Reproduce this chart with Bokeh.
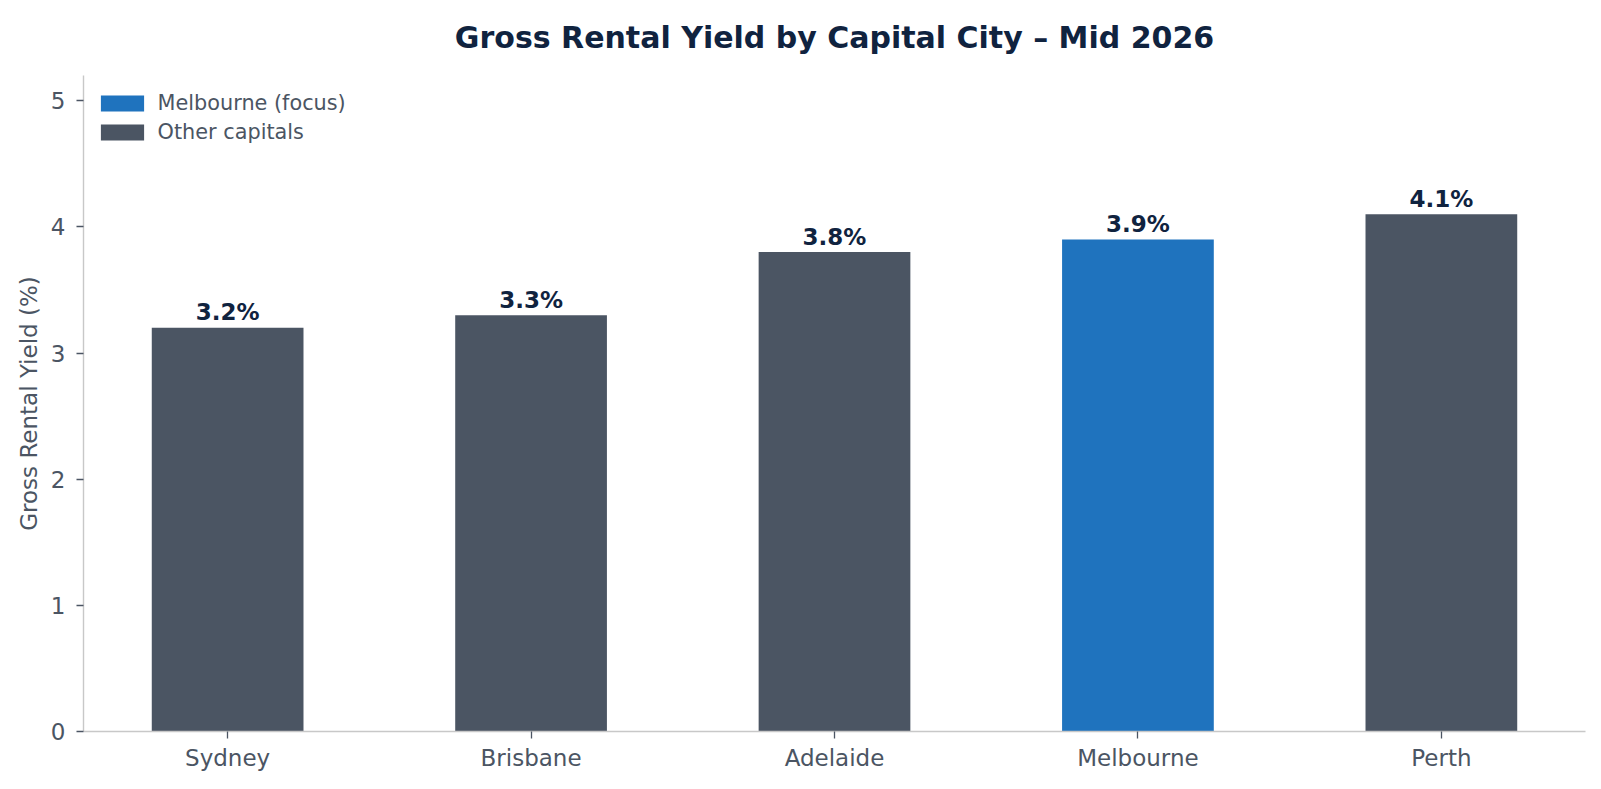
from bokeh.plotting import figure
from bokeh.models import ColumnDataSource, FactorRange, Range1d, Legend, LegendItem, FixedTicker
from bokeh.core.properties import value
from bokeh.embed import file_html
from bokeh.resources import INLINE

# ---- data ----
title_text = "Gross Rental Yield by Capital City \u2013 Mid 2026"
cities = ["Sydney", "Brisbane", "Adelaide", "Melbourne", "Perth"]
yields = [3.2, 3.3, 3.8, 3.9, 4.1]
focus_city = "Melbourne"
legend_labels = ["Melbourne (focus)", "Other capitals"]
y_ticks = [0, 1, 2, 3, 4, 5]

# ---- styles ----
FOCUS = "#1f73be"
OTHER = "#4b5563"
NAVY = "#10233f"
TEXT = "#4b5563"
SPINE = "#c8c8c8"
FONT = "DejaVu Sans"

W, H = 1601, 789
ML, MR, MT, MB = 83, 16, 75, 58

colors = [FOCUS if c == focus_city else OTHER for c in cities]
labels = [f"{v:.1f}%" for v in yields]
src = ColumnDataSource(dict(city=cities, y=yields, color=colors, label=labels))

p = figure(
    x_range=FactorRange(factors=cities, range_padding=-0.01, range_padding_units="percent"),
    y_range=Range1d(0, 5.2),
    width=W, height=H,
    output_backend="svg", toolbar_location=None,
    min_border_left=ML, min_border_right=MR, min_border_top=MT, min_border_bottom=MB,
)
p.outline_line_color = None
p.background_fill_color = "white"
p.border_fill_color = "white"
p.xgrid.visible = False
p.ygrid.visible = False

xax = p.below[0]
yax = p.left[0]

p.title.text = title_text
p.title.align = "center"
p.title.vertical_align = "top"
p.title.text_font = FONT
p.title.text_font_size = "30px"
p.title.text_font_style = "bold"
p.title.text_color = NAVY
p.title.standoff = 38

r = p.vbar(x="city", top="y", width=0.5, source=src, fill_color="color", line_color=None)

p.text(x="city", y="y", text="label", source=src, text_align="center",
       text_baseline="alphabetic", y_offset=-15.5, text_font=value(FONT),
       text_font_size="23px", text_font_style="bold", text_color=NAVY)

for ax in (xax, yax):
    ax.axis_line_color = SPINE
    ax.axis_line_width = 1.4
    ax.major_tick_line_color = TEXT
    ax.major_tick_line_width = 1.3
    ax.major_tick_out = 7
    ax.major_tick_in = 0
    ax.minor_tick_line_color = None
    ax.major_label_text_font = FONT
    ax.major_label_text_font_size = "23px"
    ax.major_label_text_color = TEXT

xax.major_label_standoff = 6
yax.major_label_standoff = 11
yax.ticker = FixedTicker(ticks=y_ticks)
yax.axis_label = "Gross Rental Yield (%)"
yax.axis_label_text_font = FONT
yax.axis_label_text_font_size = "23px"
yax.axis_label_text_font_style = "normal"
yax.axis_label_text_color = TEXT
yax.axis_label_standoff = 6

frame_h = H - MT - MB
focus_idx = cities.index(focus_city)
other_idx = next(i for i, c in enumerate(cities) if c != focus_city)
legend = Legend(
    items=[LegendItem(label=legend_labels[0], renderers=[r], index=focus_idx),
           LegendItem(label=legend_labels[1], renderers=[r], index=other_idx)],
    location=(11.6, frame_h - 15.5 - 53.4),
    margin=0, padding=0,
    glyph_width=54, glyph_height=20, label_height=16, label_standoff=9,
    spacing=5,
    label_text_font=FONT, label_text_font_size="20.8px", label_text_color=TEXT,
    border_line_color=None, background_fill_alpha=0,
)
p.add_layout(legend)

open("out.html", "w").write(file_html(p, INLINE))
